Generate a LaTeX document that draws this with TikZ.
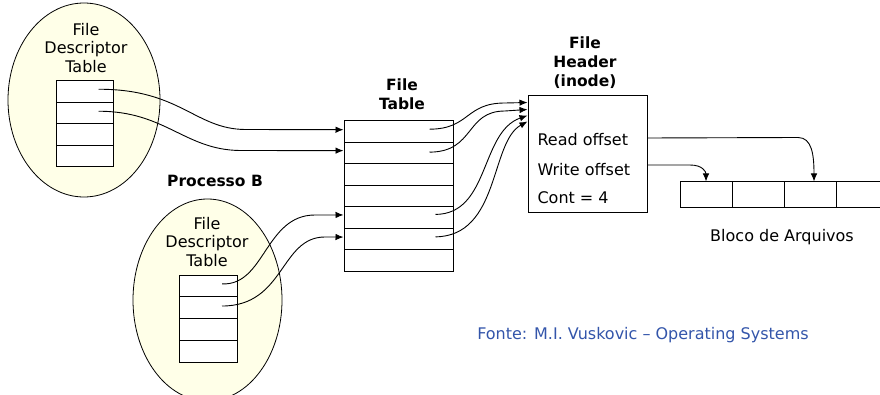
\documentclass[tikz,border=0pt]{standalone}
\usepackage{fontspec}
\setmainfont{DejaVu Sans}
\usetikzlibrary{shapes.geometric,arrows.meta,calc}
\definecolor{ellfill}{HTML}{FFFFE8}
\definecolor{srcblue}{HTML}{3355AA}
\begin{document}
\begin{tikzpicture}[x=1pt,y=-1pt,
  every node/.style={font=\fontsize{16}{18.5}\selectfont},
  lbl/.style={align=center, inner sep=0pt},
  hdr/.style={align=center, inner sep=0pt, font=\fontsize{15.5}{19}\selectfont\bfseries},
  proc/.style={ellipse, draw, fill=ellfill, line width=0.8pt, inner sep=0pt},
  dcell/.style={draw, fill=white, line width=1pt, inner sep=0pt, minimum width=57pt, minimum height=21.5pt},
  ecell/.style={draw, fill=white, line width=1pt, inner sep=0pt, minimum width=58pt, minimum height=21.75pt},
  fcell/.style={draw, fill=white, line width=1pt, inner sep=0pt, minimum width=109pt, minimum height=21.43pt},
  bcell/.style={draw, fill=white, line width=1pt, inner sep=0pt, minimum width=52pt, minimum height=26pt},
  link/.style={line width=0.9pt, -{Latex[length=8pt,width=6.5pt]}}]
\useasboundingbox (0,0) rectangle (880,395);
% process A
\node[proc, minimum width=152pt, minimum height=194pt] (pa) at (84,100) {};
\node[lbl] (pal) at (86,48) {File\\Descriptor\\Table};
\foreach \i in {1,...,4}
  \node[dcell] (a\i) at (84.5,{81+21.5*\i-10.75}) {};
% process B
\node[hdr] (pbl) at (215,181) {Processo B};
\node[proc, minimum width=149pt, minimum height=202pt] (pb) at (207.5,300) {};
\node[lbl] (pbt) at (207,242) {File\\Descriptor\\Table};
\foreach \i in {1,...,4}
  \node[ecell] (b\i) at (208,{275+21.75*\i-10.875}) {};
% file table
\node[hdr] (ftl) at (402,94.5) {File\\Table};
\foreach \i in {1,...,7}
  \node[fcell] (ft\i) at (398.5,{121+21.43*\i-10.715}) {};
% inode
\node[hdr] (ihl) at (585,63) {File\\Header\\(inode)};
\node[draw, line width=1pt, inner sep=0pt, minimum width=119pt, minimum height=117pt] (ib) at (587.5,154.5) {};
\node[anchor=west] (ro) at (534,140) {Read offset};
\node[anchor=west] (wo) at (534,170) {Write offset};
\node[anchor=west] (ct) at (534,198) {Cont = 4};
% blocks
\foreach \i in {1,...,4}
  \node[bcell] (k\i) at ({680+52*\i-26},195) {};
\node[lbl] (kl) at (782,237) {Bloco de Arquivos};
\node[lbl, text=srcblue] (src) at (643,335) {Fonte: M.I. Vuskovic -- Operating Systems};
% connectors A -> file table
\draw[link] ($(a1.east)+(-15,-2.5)$) .. controls (180,89) and (195,129) .. (245,129.5) -- ($(ft1.west)+(0,-2)$);
\draw[link] ($(a2.east)+(-15,-2)$) .. controls (165,111) and (185,150) .. (240,150.5) -- ($(ft2.west)+(0,-2.5)$);
% connectors B -> file table
\draw[link] ($(b1.center)+(14,-2)$) .. controls (265,286) and (265,215) .. (315,215) -- ($(ft5.west)+(0,-2.5)$);
\draw[link] ($(b2.center)+(14,-1.6)$) .. controls (285,306) and (280,237) .. (325,237) -- ($(ft6.west)+(0,-1.8)$);
% file table -> inode
\draw[link] ($(ft1.east)+(-24,-2.5)$) .. controls (470,129) and (465,103) .. (505,103) -- ($(ib.north west)+(0,7)$);
\draw[link] ($(ft2.east)+(-24,-1)$) .. controls (475,152) and (465,111) .. (505,111) -- ($(ib.north west)+(0,14)$);
\draw[link] ($(ft5.east)+(-18,-3)$) .. controls (490,214) and (480,132) .. ($(ib.north west)+(0,20)$);
\draw[link] ($(ft6.east)+(-18,-2)$) .. controls (500,236) and (490,142) .. ($(ib.north west)+(0,26)$);
% inode -> blocks
\draw[link] ($(ro -| ib.east)+(0,-2)$) -- (798,137.5) .. controls (812,137.5) and (814,155) .. ($(k3.north)+(4,0)$);
\draw[link] ($(wo -| ib.east)+(0,-5)$) -- (690,165) .. controls (703,165) and (706,172) .. (k1.north);
\end{tikzpicture}
\end{document}
